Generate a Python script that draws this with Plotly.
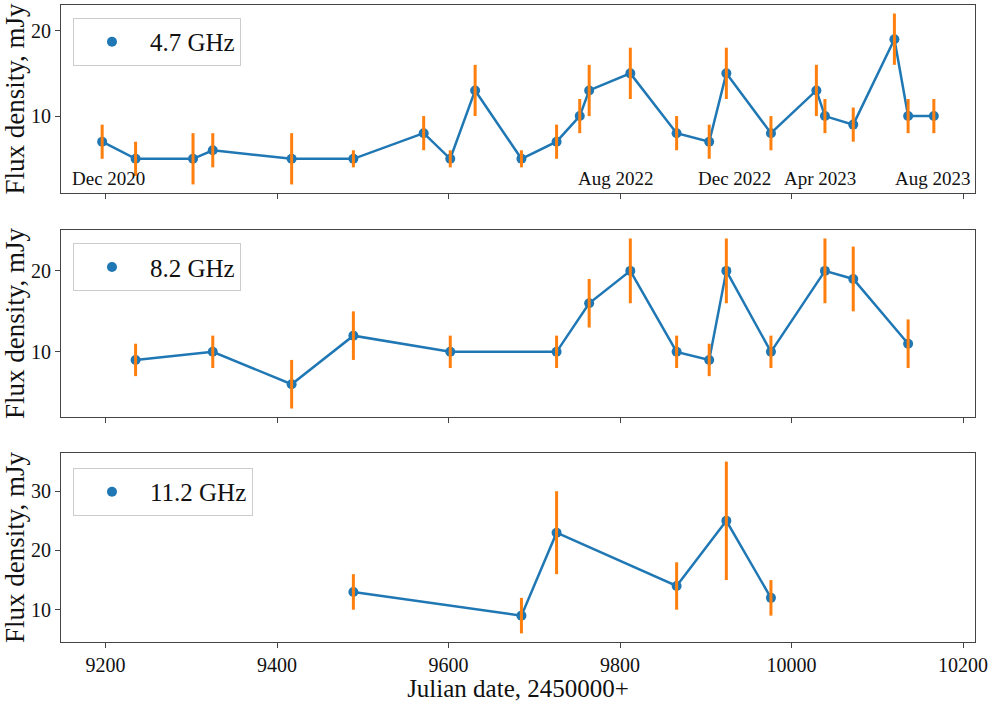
import plotly.graph_objects as go
from plotly.subplots import make_subplots

# 4.7 GHz
jd_47 = [9196, 9235, 9302, 9325, 9417, 9489, 9571, 9602, 9631, 9685, 9726, 9753,
         9764, 9812, 9866, 9904, 9924, 9976, 10029, 10039, 10072, 10120, 10136, 10166]
flux_47 = [7, 5, 5, 6, 5, 5, 8, 5, 13, 5, 7, 10, 13, 15, 8, 7, 15, 8, 13, 10, 9, 19, 10, 10]
err_47 = [2, 2, 3, 2, 3, 1, 2, 1, 3, 1, 2, 2, 3, 3, 2, 2, 3, 2, 3, 2, 2, 3, 2, 2]

# 8.2 GHz
jd_82 = [9235, 9325, 9417, 9489, 9602, 9726, 9764, 9812, 9866, 9904, 9924, 9976, 10039, 10072, 10136]
flux_82 = [9, 10, 6, 12, 10, 10, 16, 20, 10, 9, 20, 10, 20, 19, 11]
err_82 = [2, 2, 3, 3, 2, 2, 3, 4, 2, 2, 4, 2, 4, 4, 3]

# 11.2 GHz
jd_112 = [9489, 9685, 9726, 9866, 9924, 9976]
flux_112 = [13, 9, 23, 14, 25, 12]
err_112 = [3, 3, 7, 4, 10, 3]

series_names = ["4.7 GHz", "8.2 GHz", "11.2 GHz"]

# Month labels in the top panel
date_label_x = [9203, 9795, 9933, 10033, 10164]
date_label_y = [2.7, 2.7, 2.7, 2.7, 2.7]
date_label_text = ["Dec 2020", "Aug 2022", "Dec 2022", "Apr 2023", "Aug 2023"]

x_ticks = [9200, 9400, 9600, 9800, 10000, 10200]
x_tick_labels = ["9200", "9400", "9600", "9800", "10000", "10200"]

BLUE = "#1f77b4"
ORANGE = "#ff7f0e"
FONT = "Liberation Serif, Times New Roman, serif"

fig = make_subplots(rows=3, cols=1, shared_xaxes=True, vertical_spacing=0.06)

data = [(jd_47, flux_47, err_47), (jd_82, flux_82, err_82), (jd_112, flux_112, err_112)]
for i, (x, y, e) in enumerate(data):
    row = i + 1
    lg = "legend" if i == 0 else f"legend{i + 1}"
    fig.add_trace(go.Scatter(x=x, y=y, mode="lines", line=dict(color=BLUE, width=2.5),
                             showlegend=False, hoverinfo="skip"), row=row, col=1)
    fig.add_trace(go.Scatter(x=x, y=y, mode="markers", name=series_names[i],
                             marker=dict(color=BLUE, size=10), legend=lg), row=row, col=1)
    fig.add_trace(go.Scatter(x=x, y=y, mode="markers",
                             marker=dict(color="rgba(0,0,0,0)", size=1),
                             error_y=dict(type="data", array=e, color=ORANGE, thickness=3, width=0),
                             showlegend=False, hoverinfo="skip"), row=row, col=1)

for i in range(len(date_label_text)):
    fig.add_annotation(x=date_label_x[i], y=date_label_y[i], xref="x", yref="y",
                       text=date_label_text[i], showarrow=False,
                       font=dict(family=FONT, size=19, color="#111"),
                       xanchor="center", yanchor="middle")

axis_common = dict(showline=True, linecolor="#444", linewidth=1, mirror=True,
                   ticks="outside", ticklen=5, tickcolor="#444", showgrid=False,
                   zeroline=False, automargin=False,
                   tickfont=dict(family=FONT, size=20, color="#111"))

y_ranges = [[1, 23], [1.95, 25.05], [4.55, 36.45]]
y_ticks = [[10, 20], [10, 20], [10, 20, 30]]
domains = [[0.7049, 1.0], [0.3532, 0.6468], [0.0, 0.2967]]
for i in range(3):
    fig.update_yaxes(range=y_ranges[i], tickvals=y_ticks[i], domain=domains[i],
                     title=dict(text="Flux density, mJy", font=dict(family=FONT, size=27, color="#111"),
                                standoff=5),
                     row=i + 1, col=1, **axis_common)
    fig.update_xaxes(range=[9148, 10214], tickvals=x_ticks, ticktext=x_tick_labels,
                     row=i + 1, col=1, **axis_common)

fig.update_xaxes(showticklabels=True, row=3, col=1,
                 title=dict(text="Julian date, 2450000+", font=dict(family=FONT, size=25, color="#111"),
                            standoff=2))

legend_common = dict(xanchor="left", yanchor="top", x=0.0131,
                     bgcolor="rgba(255,255,255,0.8)", bordercolor="#cccccc", borderwidth=1,
                     font=dict(family=FONT, size=25, color="#111"), itemwidth=66)
fig.update_layout(
    width=991, height=702,
    margin=dict(l=61, r=16, t=5, b=60),
    font=dict(family=FONT, color="#111"),
    plot_bgcolor="white", paper_bgcolor="white",
    legend=dict(y=0.9796, **legend_common),
    legend2=dict(y=0.6259, **legend_common),
    legend3=dict(y=0.2732, **legend_common),
)

fig.write_html("out.html")
